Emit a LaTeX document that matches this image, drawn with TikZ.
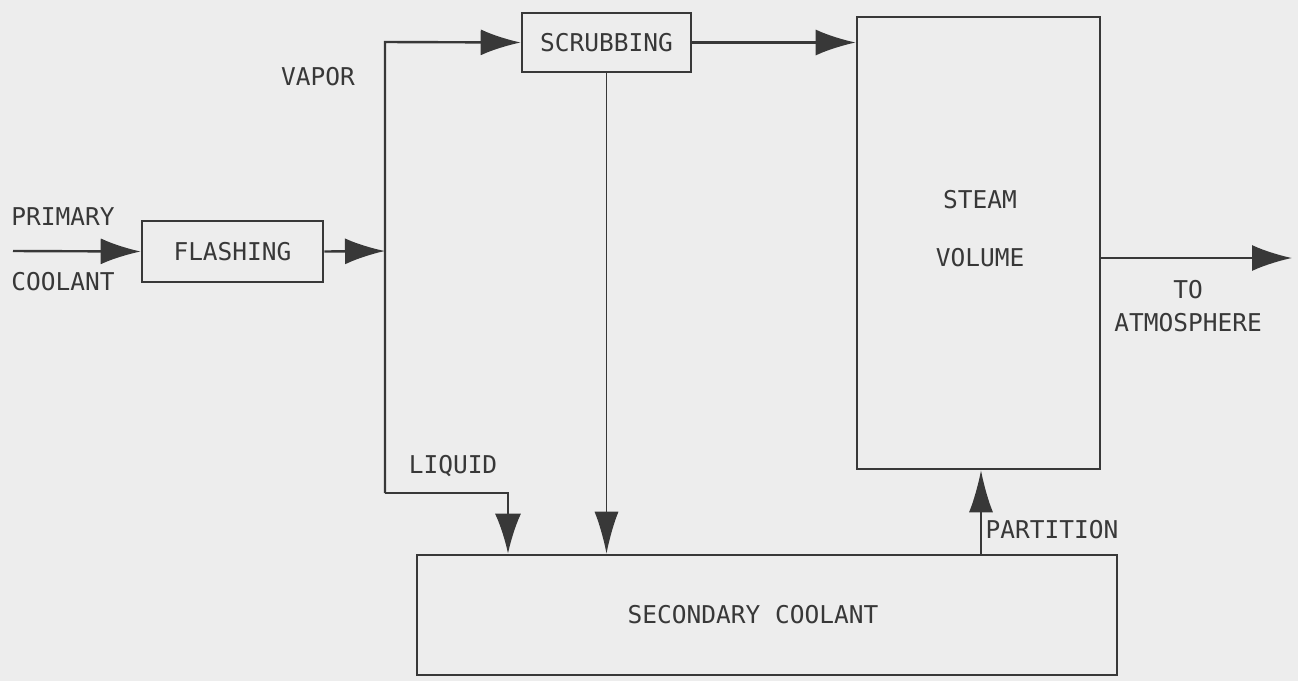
\documentclass[tikz,border=0pt]{standalone}
\usepackage{fontspec}
\setmonofont{DejaVu Sans Mono}
\usetikzlibrary{arrows.meta,positioning,calc}

\tikzset{
	block/.style={draw,line width=2.6pt,rectangle,inner sep=0pt},
	flow/.style={line width=2.4pt,-{Latex[length=40pt,width=26pt]}},
	thinflow/.style={line width=1.6pt,-{Latex[length=42pt,width=24pt]}},
	lbl/.style={inner sep=0pt},
}

\begin{document}
\begin{tikzpicture}[x=1pt,y=-1pt,font=\ttfamily\fontsize{24.5}{29}\selectfont,color=black!78]
	% background
	\fill[black!7] (0,0) rectangle (1298,681);
	\useasboundingbox (0,0) rectangle (1298,681);

	% boxes
	\node[block,minimum width=181pt,minimum height=61pt] (flash) at (232.5,251.5) {FLASHING};
	\node[block,minimum width=169pt,minimum height=59pt] (scrub) at (606.5,42.5) {SCRUBBING};
	\node[block,minimum width=243pt,minimum height=452pt] (steam) at (978.5,243) {};
	\node[lbl,align=center,font=\ttfamily\fontsize{24.5}{58}\selectfont] (steamtxt) at (980,229) {STEAM\\VOLUME};
	\node[block,minimum width=700pt,minimum height=120pt] (sec) at (767,615) {};
	\node[lbl] (sectxt) at (753,615) {SECONDARY COOLANT};

	% junction points
	\coordinate (prim) at (13,251);
	\coordinate (split) at (385,251);
	\coordinate (vtop) at (385,42);
	\coordinate (vbot) at (385,493);
	\coordinate (liq) at (508,493);
	\coordinate (part) at (981,555);
	\coordinate (atm) at (1292,258);

	% flows
	\draw[flow] (prim) -- (flash.west);
	\draw[flow] (flash.east) -- (split);
	\draw[flow] (vbot) -- (vtop) -- (scrub.west);
	\draw[flow] (vbot) -- (liq) -- (liq |- sec.north);
	\draw[flow] (scrub.east) -- (scrub.east -| steam.west);
	\draw[thinflow] (scrub.south) -- (scrub.south |- sec.north);
	\draw[thinflow] (part) -- (part |- steam.south);
	\draw[flow] (atm -| steam.east) -- (atm);

	% labels
	\node[lbl] (vapor) at (318,77) {VAPOR};
	\node[lbl] (primary) at (63,217) {PRIMARY};
	\node[lbl] (coolant) at (63,282) {COOLANT};
	\node[lbl] (liquid) at (453,466) {LIQUID};
	\node[lbl] (partition) at (1052,530) {PARTITION};
	\node[lbl] (to) at (1188,290) {TO};
	\node[lbl] (atmos) at (1188,323) {ATMOSPHERE};
\end{tikzpicture}
\end{document}
